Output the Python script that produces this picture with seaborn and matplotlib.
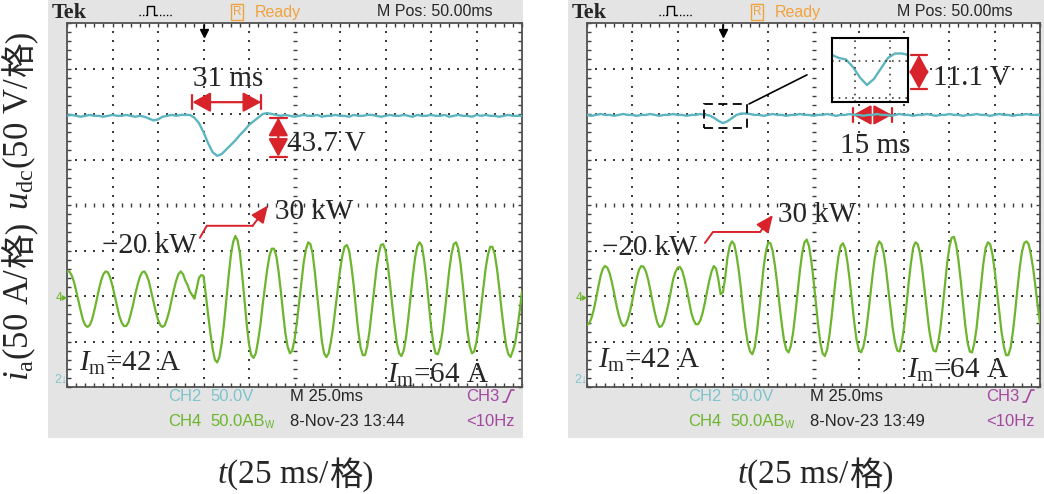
import numpy as np
import matplotlib
matplotlib.use("Agg")
import matplotlib.pyplot as plt
from matplotlib.patches import Rectangle
from matplotlib.lines import Line2D
import seaborn as sns

# scope time base: 25 ms per division, 10 divisions
t_ms = np.arange(0, 250.1, 2.5)     # CH2 samples, read every 2.5 ms
t_fine = np.arange(0, 250.1, 1.25)  # CH4 samples, read every 1.25 ms

# CH4: phase current i_a in A (step -20 kW -> 30 kW at 75 ms)
ia_left = [27, 27, 23, 16, 6, -5, -16, -26, -32, -34,
           -32, -26, -16, -5, 7, 17, 24, 27, 26, 20,
           11, 0, -11, -22, -29, -33, -33, -29, -20, -10,
           2, 12, 21, 26, 27, 23, 16, 5, -6, -17,
           -26, -32, -34, -32, -25, -16, -4, 7, 17, 24,
           27, 24, 17, 12, 5, 1, -3, 8, 20, 23,
           22, 2, -20, -40, -58, -70, -73, -67, -52, -31,
           -5, 21, 44, 59, 66, 61, 47, 23, -4, -31,
           -53, -65, -68, -63, -49, -32, -10, 10, 29, 44,
           52, 52, 44, 27, 5, -19, -41, -56, -63, -60,
           -48, -30, -8, 15, 36, 51, 59, 57, 46, 25,
           0, -26, -49, -63, -67, -63, -50, -34, -13, 8,
           28, 44, 54, 56, 50, 33, 12, -14, -38, -56,
           -65, -65, -55, -38, -16, 7, 29, 46, 56, 57,
           50, 34, 13, -11, -33, -52, -63, -66, -60, -46,
           -25, -2, 22, 42, 55, 59, 55, 39, 18, -8,
           -33, -52, -63, -64, -56, -40, -19, 5, 28, 46,
           57, 59, 52, 35, 12, -14, -38, -55, -63, -61,
           -50, -34, -13, 9, 30, 45, 54, 54, 46, 30,
           9, -15, -36, -54, -64, -67, -60, -51, -35, -16,
           5]
ia_right = [-32, -30, -24, -15, -3, 10, 22, 30, 33, 31,
            25, 15, 3, -10, -21, -29, -33, -32, -26, -17,
            -5, 8, 20, 29, 33, 32, 27, 18, 6, -7,
            -19, -29, -34, -33, -28, -19, -8, 5, 18, 26,
            31, 32, 28, 19, 8, -5, -18, -26, -31, -31,
            -27, -19, -8, 5, 17, 27, 33, 30, 18, 2,
            4, 20, 42, 55, 60, 57, 45, 28, 7, -16,
            -36, -52, -61, -64, -57, -40, -17, 8, 32, 49,
            59, 58, 49, 33, 13, -10, -31, -49, -59, -62,
            -55, -40, -19, 5, 28, 47, 59, 62, 55, 39,
            18, -7, -31, -51, -63, -66, -59, -44, -23, 0,
            24, 43, 55, 58, 52, 37, 17, -6, -29, -48,
            -59, -62, -56, -43, -23, -1, 21, 41, 54, 60,
            57, 47, 30, 8, -15, -36, -51, -60, -61, -51,
            -34, -11, 14, 36, 53, 59, 57, 47, 30, 8,
            -15, -36, -51, -60, -61, -52, -36, -13, 12, 36,
            54, 64, 65, 56, 39, 17, -8, -32, -51, -61,
            -62, -52, -35, -11, 14, 36, 53, 59, 57, 46,
            28, 6, -17, -39, -55, -65, -65, -57, -40, -18,
            7, 30, 48, 58, 60, 57, 45, 30, 10, -11,
            -30]

# CH2: dc-link voltage u_dc, deviation in V around its trace position
udc_left = [-2, -1, -2, -3, -2, -1, -2, -2, -3, -2,
            -1, -2, -2, -1, -2, -3, -2, -3, -5, -7,
            -6, -3, -2, -1, -2, -1, -1, -1, -4, -10,
            -20, -32, -42, -46, -44, -39, -34, -29, -23, -18,
            -12, -8, -4, 0, 1, 0, -1, -2, -1, -2,
            -3, -2, -1, -2, -2, -1, -3, -2, -2, -1,
            -2, -2, -3, -1, -2, -2, -1, -1, -2, -3,
            -2, -1, -2, -2, -1, -2, -3, -1, -2, -2,
            -1, -2, -2, -1, -3, -2, -1, -2, -2, -3,
            -1, -2, -1, -2, -2, -3, -2, -1, -2, -2,
            -2]
udc_right = [-1, -2, -1, 0, -1, -1, -2, -1, 0, -1,
             -1, -2, -1, -1, 0, -1, -2, -1, -1, 0,
             -1, -1, -2, -1, -1, 0, -1, -1.5, -4, -7.5,
             -10, -8, -4.5, -1, 0.5, 0.5, 0, -1, -1, -2,
             -1, 0, -1, -1, -2, -1, -1, 0, -1, -1,
             -2, -1, -1, 0, -1, -2, -1, -1, 0, -1,
             -1, -2, -1, -1, 0, -1, -1, -2, -1, 0,
             -1, -1, -2, -1, -1, 0, -1, -2, -1, -1,
             0, -1, -1, -2, -1, -1, 0, -1, -1, -2,
             -1, 0, -1, -1, -2, -1, -1, 0, -1, -1,
             -1]

V_PER_DIV = 50
A_PER_DIV = 50
udc_pos = 2
ia_pos = -2
dates = ["8-Nov-23 13:44", "8-Nov-23 13:49"]

W, H = 1044, 494
RED = "#d8232a"
CYAN = "#5cb5bf"
GREEN = "#6cb52d"
CH2_TXT = "#7fc3cc"
PURPLE = "#a3479f"
ORANGE = "#f0a23c"
GRID = "#3d3d3d"
FRAME = "#e4e4e4"

sns.set_style("white")
plt.rcParams["mathtext.fontset"] = "custom"
plt.rcParams["mathtext.rm"] = "Liberation Serif"
plt.rcParams["mathtext.it"] = "Liberation Serif:italic"
plt.rcParams["mathtext.bf"] = "Liberation Serif:bold"
SERIF = ["Liberation Serif", "Noto Sans CJK SC"]
SANS = ["Liberation Sans", "DejaVu Sans"]

fig = plt.figure(figsize=(W / 100, H / 100), dpi=100)


def fx(px):
    return px / W


def fy(py):
    return 1 - py / H


def ftext(x, y, s, **kw):
    kw.setdefault("family", SANS)
    return fig.text(fx(x), fy(y), s, **kw)


def fline(xs, ys, **kw):
    fig.add_artist(Line2D([fx(v) for v in xs], [fy(v) for v in ys],
                          transform=fig.transFigure, **kw))


def scope_screen(ax):
    ax.set_xlim(0, 250)
    ax.set_ylim(-4, 4)
    ax.set_xticks(np.arange(0, 251, 25))
    ax.set_xticks(np.arange(0, 251, 5), minor=True)
    ax.set_yticks(np.arange(-4, 5, 1))
    ax.set_yticks(np.arange(-4, 4.01, 0.2), minor=True)
    ax.tick_params(which="both", direction="in", length=3, width=1, color=GRID,
                   top=True, right=True, bottom=True, left=True,
                   labelbottom=False, labelleft=False)
    for s in ax.spines.values():
        s.set_color("#505050")
        s.set_linewidth(1.3)
    ax.set_facecolor("white")
    dots_y = np.arange(-3.8, 3.81, 0.2)
    dots_x = np.arange(5, 246, 5)
    for xv in [25, 50, 75, 100, 150, 175, 200, 225]:
        ax.scatter(np.full(dots_y.size, xv), dots_y, s=2.5, marker="s",
                   color=GRID, linewidths=0, zorder=2)
    for yv in [-3, -2, -1, 1, 2, 3]:
        ax.scatter(dots_x, np.full(dots_x.size, yv), s=2.5, marker="s",
                   color=GRID, linewidths=0, zorder=2)
    ax.scatter(np.full(dots_y.size, 125), dots_y, s=12, marker="_",
               color=GRID, linewidths=1, zorder=2)
    ax.scatter(dots_x, np.zeros(dots_x.size), s=12, marker="|",
               color=GRID, linewidths=1, zorder=2)
    # trigger position marker
    ax.plot([75, 75], [3.96, 3.82], color="k", lw=1.3)
    ax.plot([75], [3.77], marker="v", color="k", ms=6, clip_on=False)


ARROW = dict(arrowstyle="<|-|>,head_length=0.55,head_width=0.3", color=RED,
             lw=1.6, shrinkA=0, shrinkB=0, mutation_scale=20)


def hmeasure(ax, x1, x2, y, half):
    ax.annotate("", xy=(x1, y), xytext=(x2, y), arrowprops=ARROW)
    for xv in (x1, x2):
        ax.plot([xv, xv], [y - half, y + half], color=RED, lw=1.6)


def vmeasure(ax, x, y1, y2, half):
    ax.annotate("", xy=(x, y1), xytext=(x, y2), arrowprops=ARROW)
    for yv in (y1, y2):
        ax.plot([x - half, x + half], [yv, yv], color=RED, lw=1.6)


def power_step(ax, pts, tip):
    xs, ys = zip(*pts)
    ax.plot(xs, ys, color=RED, lw=1.4)
    ax.annotate("", xy=tip, xytext=pts[-1],
                arrowprops=dict(arrowstyle="-|>,head_length=0.8,head_width=0.35",
                                color=RED, lw=1.4, shrinkA=0, shrinkB=0,
                                mutation_scale=13))


def note(ax, x, y, s, ha="left"):
    ax.text(x, y, s, ha=ha, va="baseline", size=21, family=SERIF, zorder=8)


PANELS = [(67, 455), (587, 453)]
FRAMES = [(48, 523), (568, 1044)]
series = [(udc_left, ia_left), (udc_right, ia_right)]
axes = []

for i, (x0, w) in enumerate(PANELS):
    g0, g1 = FRAMES[i]
    fig.add_artist(Rectangle((fx(g0), fy(438)), (g1 - g0) / W, 438 / H,
                             transform=fig.transFigure, fc=FRAME, ec="none",
                             zorder=-1))
    ax = fig.add_axes([fx(x0), fy(387), w / W, 364 / H])
    scope_screen(ax)
    udc, ia = series[i]
    sns.lineplot(x=t_ms, y=udc_pos + np.asarray(udc) / V_PER_DIV, ax=ax,
                 color=CYAN, lw=1.7, zorder=4)
    sns.lineplot(x=t_fine, y=ia_pos + np.asarray(ia) / A_PER_DIV, ax=ax,
                 color=GREEN, lw=1.6, zorder=4)
    ax.set_xlabel("")
    ax.set_ylabel("")
    axes.append(ax)

    # scope header
    ftext(x0 - 15, 13, "Tek", family="Liberation Serif", weight="bold",
          size=16, va="center")
    fline([x0 + 72, x0 + 79], [15, 15], color="k", lw=1, ls=(0, (1, 1.5)))
    fline([x0 + 79, x0 + 80, x0 + 80, x0 + 87, x0 + 87, x0 + 89],
          [15, 15, 6, 6, 15, 15], color="k", lw=1)
    fline([x0 + 89, x0 + 106], [15, 15], color="k", lw=1, ls=(0, (1, 1.5)))
    ftext(x0 + 166, 12, "R", color=ORANGE, size=8.5, va="center",
          bbox=dict(boxstyle="square,pad=0.15", fc="none", ec=ORANGE, lw=1))
    ftext(x0 + 188, 12, "Ready", color=ORANGE, size=11.5, va="center")
    ftext(x0 + 310, 12, "M Pos: 50.00ms", size=11.5, va="center")

    # scope footer
    ftext(x0 + 101, 396, "CH2", color=CH2_TXT, size=12, va="center")
    ftext(x0 + 143, 396, "50.0V", color=CH2_TXT, size=12, va="center")
    ftext(x0 + 223, 396, "M 25.0ms", size=12, va="center")
    ftext(x0 + 432, 396, "CH3", color=PURPLE, size=12, va="center", ha="right")
    fline([x0 + 436, x0 + 439, x0 + 444, x0 + 447], [402, 402, 390, 390],
          color=PURPLE, lw=1.2)
    ftext(x0 + 101, 421, "CH4", color=GREEN, size=12, va="center")
    ftext(x0 + 143, 421, "50.0AB", color=GREEN, size=12, va="center")
    ftext(x0 + 198, 425, "W", color=GREEN, size=7, va="center")
    ftext(x0 + 223, 421, dates[i], size=12, va="center")
    ftext(x0 + 448, 421, "<10Hz", color=PURPLE, size=12, va="center", ha="right")

    # channel ground markers
    ftext(x0 + 1, 298, "4\u25b8", color=GREEN, size=8.5, ha="right", va="center")
    ftext(x0 + 1, 379, "2\u2193", color=CH2_TXT, size=9, ha="right", va="center")

    # x label
    t1 = fig.text(fx(x0 + 150), fy(483), r"$t$(25 ms/", ha="left", va="baseline",
                  size=24, family="Liberation Serif")
    ax.annotate("格)", xy=(1, 0), xycoords=t1, ha="left", va="bottom",
                size=24, family=SERIF)

axL, axR = axes

# left panel annotations
note(axL, 88.5, 2.61, "31 ms", ha="center")
hmeasure(axL, 68.9, 106.7, 2.26, 0.15)
vmeasure(axL, 116.1, 1.92, 1.06, 4.7)
note(axL, 120.8, 1.19, "43.7 V")
note(axL, 114.2, -0.31, "30 kW")
note(axL, 71.2, -1.05, "\u221220 kW", ha="right")
power_step(axL, [(73.0, -0.72), (76.8, -0.457), (102.0, -0.457)], (110.4, -0.01))
note(axL, 6.5, -3.64, r"$I_{\mathrm{m}}$=42 A")
note(axL, 176.0, -3.90, r"$I_{\mathrm{m}}$=64 A")

# right panel annotations
note(axR, 158.9, 1.14, "15 ms", ha="center")
hmeasure(axR, 146.8, 168.3, 1.98, 0.15)
vmeasure(axR, 183.2, 3.30, 2.55, 4.5)
note(axR, 191.0, 2.64, "11.1 V")
note(axR, 105.4, -0.37, "30 kW")
note(axR, 60.7, -1.10, "\u221220 kW", ha="right")
power_step(axR, [(65.1, -0.835), (69.5, -0.593), (95.5, -0.593)], (102.6, -0.22))
note(axR, 6.1, -3.58, r"$I_{\mathrm{m}}$=42 A")
note(axR, 176.6, -3.80, r"$I_{\mathrm{m}}$=64 A")

# zoom box around the small dip and its magnified view
axR.add_patch(Rectangle((64.6, 1.69), 23.7, 0.53, fill=False, ec="k", lw=1.3,
                        ls=(0, (5, 3)), zorder=6))
axR.plot([89.4, 121.4], [2.22, 2.86], color="k", lw=1.2, zorder=6)
ins = fig.add_axes([fx(832), fy(102), 76 / W, 64 / H])
ins.set_facecolor("white")
sns.lineplot(x=t_ms, y=np.asarray(udc_right), ax=ins, color=CYAN, lw=1.7)
ins.set_xlim(62.5, 89.7)
ins.set_ylim(-15.67, 5.67)
for xv in (70.7, 83.3):
    ins.axvline(xv, color=GRID, lw=1.2, ls=(0, (1, 3)))
for yv in (-2, -14.3):
    ins.axhline(yv, color=GRID, lw=1.2, ls=(0, (1, 3)))
ins.set_xticks([])
ins.set_yticks([])
ins.set_xlabel("")
ins.set_ylabel("")
for s in ins.spines.values():
    s.set_color("k")
    s.set_linewidth(1.5)

# rotated y labels
for ybot, first in [(210, r"$u_{\mathrm{dc}}$(50 V/"), (381, r"$i_{\mathrm{a}}$(50 A/")]:
    t1 = fig.text(fx(38), fy(ybot), first, rotation=90, ha="right", va="bottom",
                  size=25, family="Liberation Serif")
    axL.annotate("格)", xy=(1, 1), xycoords=t1, rotation=90, ha="right",
                 va="bottom", size=25, family=SERIF)

fig.savefig("out.png", dpi=100, facecolor="white")
